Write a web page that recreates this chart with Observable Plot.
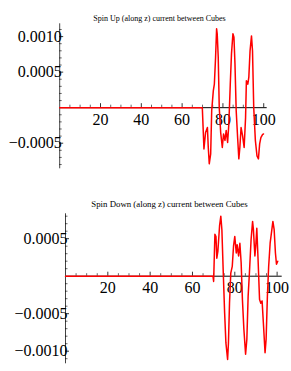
<!DOCTYPE html>
<html><head><meta charset="utf-8">
<script src="https://cdn.jsdelivr.net/npm/d3@7"></script>
<script src="https://cdn.jsdelivr.net/npm/@observablehq/plot@0.6"></script>
<style>
body{margin:0;background:#fff;width:291px;height:371px;overflow:hidden}
svg{display:block;overflow:visible}
</style></head><body>
<div id="top"></div><div id="bot"></div>
<script>
const titleUp = "Spin Up (along z) current between Cubes";
const titleDown = "Spin Down (along z) current between Cubes";
const xTickLabels = ["20","40","60","80","100"];
const xTickValues = [20,40,60,80,100];
const upTickValues = [0.0010, 0.0005, -0.0005];
const upTickLabels = ["0.0010","0.0005","\u22120.0005"];
const downTickValues = [0.0005, -0.0005, -0.0010];
const downTickLabels = ["0.0005","\u22120.0005","\u22120.0010"];

const upX = [0,69.9,70.7,71.5,72.4,72.8,73.3,74,74.5,75.3,75.8,76.4,76.9,77.2,77.7,78.2,78.9,79.7,80.3,81,81.6,82.3,82.9,83.6,84.2,84.9,85.4,85.9,86.5,87.2,87.8,88.3,88.9,89.6,90.4,91.1,91.5,92.2,92.7,93.3,94,94.5,95.1,95.9,96.7,97.4,98,98.6,99.4,99.9];
const upY = [0,0,-0.00058,-0.00035,-0.00028,-0.00055,-0.00079,-0.00065,-0.00004,0.00024,0.00033,0.00071,0.00111,0.00104,0.00071,0,-0.00035,-0.00056,-0.00037,-0.00046,-0.00032,-0.00049,-0.00023,0.00033,0.00076,0.00104,0.00099,0.00062,-0.00004,-0.00042,-0.00072,-0.00056,-0.00028,-0.00039,-0.00056,-0.00014,0.00038,0.00033,0.00043,0.0008,0.00101,0.0008,0,-0.00046,-0.00068,-0.00072,-0.00051,-0.00042,-0.00038,-0.00037];

const downX = [0,69.7,70,70.6,71.1,71.5,72,72.8,73.4,73.9,74.5,75.2,75.8,76.6,77,77.5,78.1,78.8,79.4,80,80.7,81.1,81.8,82.4,83,83.6,84.3,85.1,85.7,86.3,86.9,87.7,88.4,88.8,89.5,89.9,90.4,91,91.7,92.3,92.9,93.6,94.3,94.8,95.4,96,96.7,98,98.6,99.2,99.7,100.3];
const downY = [0,0,-0.00007,0.00056,0.00053,0.00024,0.00033,0.00067,0.0008,0.00062,0.00009,-0.00049,-0.00089,-0.00111,-0.00089,-0.00036,0.00004,0.00013,0.0004,0.00053,0.00031,0.00042,0.00027,0.00044,0.00018,-0.00031,-0.00071,-0.00104,-0.00084,-0.00027,0.00004,0.00049,0.00073,0.00062,0.00027,0.0004,0.00064,0.00022,-0.00031,-0.00036,-0.00033,-0.00067,-0.00102,-0.00084,-0.00027,0.00013,0.00044,0.00073,0.00062,0.00031,0.00016,0.0002];

function chart(cfg) {
  const {title, titleSize, titleX, titleY, xs, ys, yTickVals, yTickLabs, xDomain, yDomain, height, mL, mR, mT, mB} = cfg;
  const data = xs.map((x,i)=>({x, y: ys[i]}));
  const innerW = 291 - mL - mR, innerH = height - mT - mB;
  const yPerPx = (yDomain[1]-yDomain[0]) / innerH;
  const xPerPx = (xDomain[1]-xDomain[0]) / innerW;
  const xMinor = d3.range(5, xDomain[1], 5).filter(v => v % 20 !== 0);
  const yMinor = d3.range(Math.ceil(yDomain[0]/0.0001), Math.floor(yDomain[1]/0.0001)+1)
    .map(k => k*0.0001).filter(v => Math.abs(Math.round(v/0.0001)) % 5 !== 0);
  return Plot.plot({
    width: 291, height, marginLeft: mL, marginRight: mR, marginTop: mT, marginBottom: mB,
    x: {domain: xDomain, axis: null},
    y: {domain: yDomain, axis: null},
    style: {background: "white", overflow: "visible"},
    marks: [
      Plot.ruleY([0], {x1: xDomain[0], x2: xDomain[1], stroke: "black", strokeWidth: 1}),
      Plot.ruleX([0], {y1: yDomain[0], y2: yDomain[1], stroke: "#444", strokeWidth: 1}),
      Plot.ruleX(xTickValues, {x: d=>d, y1: 0, y2: 4*yPerPx, stroke: "black", strokeWidth: 0.8}),
      Plot.ruleX(xMinor, {x: d=>d, y1: 0, y2: 2.5*yPerPx, stroke: "black", strokeWidth: 0.6}),
      Plot.ruleY(yTickVals, {y: d=>d, x1: 0, x2: 4*xPerPx, stroke: "black", strokeWidth: 0.8}),
      Plot.ruleY(yMinor, {y: d=>d, x1: 0, x2: 2.5*xPerPx, stroke: "black", strokeWidth: 0.6}),
      Plot.text(xTickValues, {x: d=>d, y: 0, text: (d,i)=>xTickLabels[i], dy: 12, fontSize: 16, fontFamily: "Liberation Serif", fill: "black"}),
      Plot.text(yTickVals, {x: 0, y: d=>d, text: (d,i)=>yTickLabs[i], dx: 2, textAnchor: "end", fontSize: 16, fontFamily: "Liberation Serif", fill: "black"}),
      Plot.line(data, {x: "x", y: "y", stroke: "#ff0000", strokeWidth: 1.5, curve: "linear"}),
      Plot.text([title], {frameAnchor: "top-left", dx: titleX - mL, dy: titleY - mT, text: d=>d, fontSize: titleSize, fontFamily: "Liberation Serif", fill: "black", textAnchor: "middle", lineAnchor: "bottom"})
    ]
  });
}

document.getElementById("top").append(chart({
  title: titleUp, titleSize: 8, titleX: 159, titleY: 20,
  xs: upX, ys: upY, yTickVals: upTickValues, yTickLabs: upTickLabels,
  xDomain: [0, 101.7], yDomain: [-0.00086, 0.00118], height: 185,
  mL: 59.2, mR: 24.3, mT: 23.3, mB: 16.7
}));
document.getElementById("bot").append(chart({
  title: titleDown, titleSize: 8.8, titleX: 169, titleY: 21,
  xs: downX, ys: downY, yTickVals: downTickValues, yTickLabs: downTickLabels,
  xDomain: [0, 102.4], yDomain: [-0.001168, 0.000832], height: 186,
  mL: 65, mR: 9.3, mT: 28.3, mB: 7.7
}));
</script>
</body></html>
